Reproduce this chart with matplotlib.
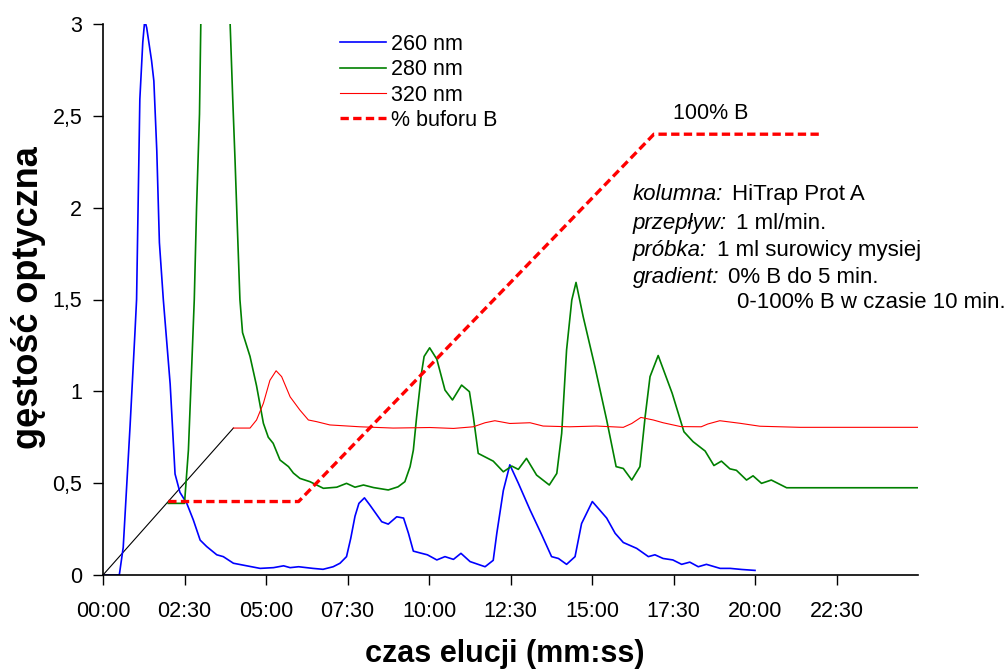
# -*- coding: utf-8 -*-

'''Chromatogram - HiTrap Prot A'''

import matplotlib
matplotlib.use('Agg')
import matplotlib.pyplot as plt

'''Dane odczytane z wykresu (czas w minutach)'''
t260 = [0, 0.5, 0.62, 0.83, 0.98, 1.03, 1.13, 1.22, 1.28, 1.34, 1.49, 1.56, 1.65, 1.73, 1.85,
        2.06, 2.21, 2.36, 2.57, 2.77, 2.98, 3.18, 3.49, 3.69, 4.0, 4.41, 4.82, 5.23, 5.54, 5.74,
        6.0, 6.44, 6.75, 7.06, 7.27, 7.47, 7.6, 7.73, 7.85, 8.02, 8.19, 8.35, 8.55, 8.75, 9.01,
        9.22, 9.37, 9.52, 9.73, 9.95, 10.24, 10.49, 10.75, 10.98, 11.26, 11.72, 11.97, 12.08, 12.28, 12.48,
        12.74, 13.1, 13.46, 13.76, 13.97, 14.22, 14.48, 14.68, 15.01, 15.45, 15.71, 15.96, 16.37, 16.73, 16.93,
        17.18, 17.48, 17.75, 18.0, 18.26, 18.51, 18.93, 19.24, 19.6, 20.0]
a260 = [0, 0, 0.15, 0.81, 1.32, 1.5, 2.59, 2.9, 3.02, 2.98, 2.8, 2.69, 2.31, 1.81, 1.5,
        1.04, 0.55, 0.45, 0.39, 0.3, 0.19, 0.155, 0.11, 0.10, 0.064, 0.05, 0.036, 0.04, 0.05, 0.04,
        0.045, 0.036, 0.031, 0.045, 0.064, 0.10, 0.2, 0.32, 0.39, 0.42, 0.38, 0.34, 0.29, 0.277, 0.317,
        0.31, 0.227, 0.13, 0.12, 0.11, 0.082, 0.10, 0.085, 0.118, 0.073, 0.045, 0.08, 0.227, 0.46, 0.60,
        0.50, 0.354, 0.218, 0.10, 0.09, 0.058, 0.10, 0.28, 0.40, 0.31, 0.227, 0.177, 0.145, 0.10, 0.11,
        0.09, 0.082, 0.058, 0.07, 0.045, 0.058, 0.036, 0.036, 0.03, 0.025]

t280 = [2.0, 2.5, 2.62, 2.72, 2.80, 2.87, 2.96, 3.0, 3.45, 3.9, 3.98, 4.05, 4.12, 4.2, 4.28,
        4.51, 4.71, 4.92, 5.07, 5.22, 5.43, 5.69, 5.84, 6.04, 6.35, 6.76, 7.17, 7.47, 7.73, 7.99,
        8.3, 8.75, 9.05, 9.26, 9.42, 9.52, 9.62, 9.77, 9.85, 10.02, 10.24, 10.49, 10.72, 11.0, 11.24,
        11.36, 11.51, 11.97, 12.28, 12.54, 12.74, 12.99, 13.3, 13.69, 13.92, 14.07, 14.22, 14.38, 14.51, 14.73,
        15.09, 15.45, 15.74, 15.96, 16.22, 16.47, 16.63, 16.78, 17.03, 17.46, 17.82, 18.1, 18.47, 18.74, 18.97,
        19.23, 19.43, 19.74, 19.94, 20.2, 20.5, 20.97, 25.0]
a280 = [0.39, 0.39, 0.68, 1.13, 1.5, 2.0, 2.51, 3.0, 3.8, 3.0, 2.59, 2.26, 1.9, 1.5, 1.32,
        1.19, 1.03, 0.826, 0.75, 0.717, 0.626, 0.59, 0.555, 0.526, 0.508, 0.472, 0.478, 0.499, 0.478, 0.49,
        0.476, 0.463, 0.48, 0.508, 0.59, 0.68, 0.86, 1.10, 1.19, 1.237, 1.175, 1.007, 0.953, 1.034, 0.998,
        0.862, 0.662, 0.62, 0.562, 0.593, 0.575, 0.635, 0.544, 0.49, 0.553, 0.771, 1.225, 1.497, 1.593, 1.406,
        1.134, 0.844, 0.59, 0.58, 0.517, 0.59, 0.862, 1.08, 1.195, 0.989, 0.78, 0.726, 0.675, 0.596, 0.62,
        0.578, 0.57, 0.517, 0.54, 0.499, 0.517, 0.475, 0.475]

t320 = [4.0, 4.51, 4.71, 4.92, 5.12, 5.31, 5.48, 5.74, 6.04, 6.3, 6.55, 6.96, 7.88, 8.9, 10.03,
        10.75, 11.36, 11.72, 12.02, 12.48, 13.1, 13.5, 14.32, 15.14, 15.96, 16.22, 16.5, 16.88, 17.18, 17.72,
        18.35, 18.55, 18.92, 19.54, 20.15, 21.38, 25.0]
a320 = [0.80, 0.80, 0.844, 0.935, 1.06, 1.112, 1.08, 0.97, 0.898, 0.844, 0.835, 0.817, 0.807, 0.80, 0.803,
        0.798, 0.807, 0.829, 0.84, 0.825, 0.829, 0.811, 0.807, 0.811, 0.804, 0.825, 0.858, 0.844, 0.829, 0.808,
        0.807, 0.822, 0.84, 0.826, 0.81, 0.804, 0.804]

# % buforu B (w skali osi Y)
tB = [2.0, 6.0, 16.9, 22.0]
aB = [0.4, 0.4, 2.4, 2.4]

# linia z poczatku ukladu
tLinia = [0, 4.0]
aLinia = [0, 0.8]

xticks = [0, 2.5, 5, 7.5, 10, 12.5, 15, 17.5, 20, 22.5]
yticks = [0, 0.5, 1, 1.5, 2, 2.5, 3]
ylabels = ['0', '0,5', '1', '1,5', '2', '2,5', '3']

def mmss(m):
    return '%02d:%02d' % (int(m), int(round((m % 1) * 60)))

plt.rcParams['font.family'] = ['Liberation Sans', 'DejaVu Sans']

fig = plt.figure(figsize=(10.05, 6.7), dpi=100)
ax = fig.add_axes([103/1005., 95/670., 815/1005., 551/670.])

ax.plot(tLinia, aLinia, color='black', lw=0.8)
ax.plot(t260, a260, color='#0000FF', lw=1.2, label='260 nm')
ax.plot(t280, a280, color='#008000', lw=1.2, label='280 nm')
ax.plot(t320, a320, color='#FF0000', lw=0.8, label='320 nm')
ax.plot(tB, aB, color='#FF0000', lw=2.4, dashes=(2.5, 1.3), label='% buforu B')

ax.set_xlim(0, 25)
ax.set_ylim(0, 3)
ax.set_xticks(xticks)
ax.set_xticklabels([mmss(x) for x in xticks])
ax.set_yticks(yticks)
ax.set_yticklabels(ylabels)
ax.tick_params(axis='x', direction='out', length=7, width=1, pad=12, labelsize=15.5)
ax.tick_params(axis='y', direction='out', length=7, width=1, pad=8, labelsize=15.5)
ax.spines['top'].set_visible(False)
ax.spines['right'].set_visible(False)
ax.spines['left'].set_linewidth(1.2)
ax.spines['bottom'].set_linewidth(1.2)

ax.legend(loc='upper left', bbox_to_anchor=((340-103)/815., 1-(34-24)/551.),
          frameon=False, fontsize=15.5, handlelength=2.15, handletextpad=0.22,
          labelspacing=0.2, borderpad=0, borderaxespad=0)

# opisy
ax.text(17.49, 2.513, '100% B', fontsize=15.5, ha='left', va='center')
opisy = [('kolumna:', 'HiTrap Prot A', 2.07, 19.28),
         ('przepływ:', '1 ml/min.', 1.916, 19.42),
         ('próbka:', '1 ml surowicy mysiej', 1.769, 18.84),
         ('gradient:', '0% B do 5 min.', 1.622, 19.18)]
for nazwa, wartosc, y, x in opisy:
    ax.text(16.25, y, nazwa, fontsize=16, style='italic', ha='left', va='center')
    ax.text(x, y, wartosc, fontsize=16, ha='left', va='center')
ax.text(19.44, 1.481, '0-100% B w czasie 10 min.', fontsize=16, ha='left', va='center', clip_on=False)

fig.text(29/1005., 1-298/670., 'gęstość optyczna', rotation=90, fontsize=26,
         fontweight='bold', ha='center', va='center')
fig.text(505/1005., 1-654/670., 'czas elucji (mm:ss)', fontsize=22,
         fontweight='bold', ha='center', va='center')

fig.savefig('out.png', dpi=100)
